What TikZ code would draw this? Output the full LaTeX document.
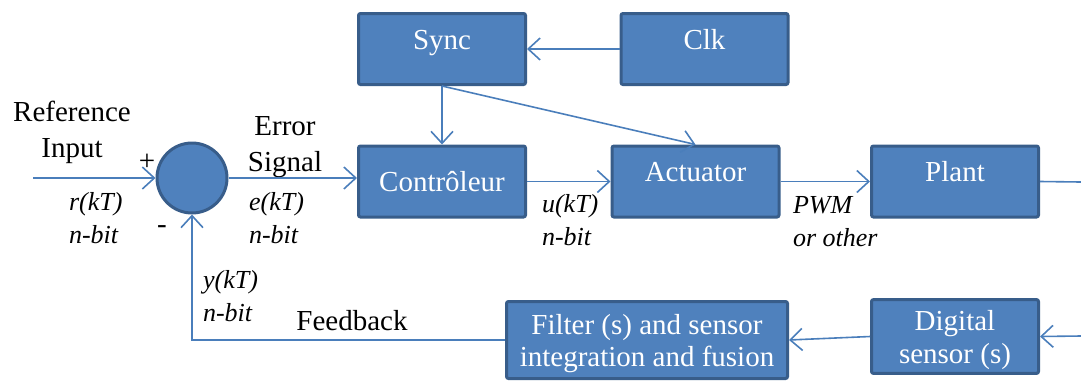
\documentclass[tikz,border=0pt]{standalone}
\usepackage{fontspec}
\setmainfont{Liberation Serif}
\usetikzlibrary{arrows.meta, positioning}
\definecolor{myfill}{RGB}{79,129,189}
\definecolor{myborder}{RGB}{56,93,138}
\definecolor{myline}{RGB}{74,126,187}

\tikzset{
    blk/.style={draw=myborder, line width=1.5pt, fill=myfill, text=white, rounded corners=1pt,
        minimum width=83.5pt, minimum height=35.5pt, inner sep=2pt, align=center,
        font=\fontsize{14.5}{16}\selectfont},
    uptext/.style={text height=10pt, text depth=10pt},
    conn/.style={draw=myline, line width=0.8pt, -{Straight Barb[length=6pt,width=11pt]}},
    lbl/.style={font=\fontsize{14.5}{18}\selectfont, align=center},
    sig/.style={font=\itshape\fontsize{13}{16.5}\selectfont, align=left, anchor=west},
}

\begin{document}
\begin{tikzpicture}[x=0.5pt, y=-0.5pt]
    \useasboundingbox (0,0) rectangle (1081,381);

    % summing junction
    \node[draw=myborder, line width=1.5pt, fill=myfill, circle, minimum size=35pt, inner sep=0pt] (sum) at (192,178) {};
    \node[lbl] (plus) at (147,162) {+};
    \node[lbl] (minus) at (162,230) {-};

    % blocks, top row
    \node[blk, uptext] (sync) at (442,49) {Sync};
    \node[blk, uptext] (clk) at (704.5,49) {Clk};

    % blocks, forward path
    \node[blk] (ctrl) at (442,181.5) {Contrôleur};
    \node[blk, uptext] (act) at (695.5,181.5) {Actuator};
    \node[blk, uptext] (plant) at (955,181.5) {Plant};

    % blocks, feedback path
    \node[blk, minimum width=140.5pt, minimum height=38.5pt, text height=30pt, text depth=3.2pt] (filt) at (647,340) {Filter (s) and sensor\\integration and fusion};
    \node[blk, minimum height=35pt, text height=29.7pt, text depth=3.2pt, font=\fontsize{14.5}{16.5}\selectfont] (sens) at (955,336.5) {Digital\\sensor (s)};

    % free ends
    \coordinate (refin) at (33,178);
    \coordinate (out) at (1081,182);
    \coordinate (meas) at (1081,336);

    % labels
    \node[lbl] (reflbl) at (72,132) {Reference\\Input};
    \node[lbl] (errlbl) at (285,147) {Error\\Signal};
    \node[lbl] (fblbl) at (352,321) {Feedback};
    \node[sig] (rlbl) at (62,218) {r(kT)\\n-bit};
    \node[sig] (elbl) at (242,218) {e(kT)\\n-bit};
    \node[sig] (ulbl) at (535,220) {u(kT)\\n-bit};
    \node[sig] (pwmlbl) at (786,222) {PWM\\or other};
    \node[sig] (ylbl) at (196,296) {y(kT)\\n-bit};

    % Arrows
    \draw[conn] (refin) -- (sum.west);
    \draw[conn] (sum.east) -- (sum.east -| ctrl.west);
    \draw[conn] (ctrl.east) -- (act.west);
    \draw[conn] (act.east) -- (plant.west);
    \draw[draw=myline, line width=0.8pt] (plant.east) -- (out);
    \draw[conn] (clk.west) -- (sync.east);
    \draw[conn] (sync.south) -- (ctrl.north);
    \draw[conn] (sync.south) -- (act.north);
    \draw[conn] (meas) -- (sens.east);
    \draw[conn] (sens.west) -- (filt.east);
    \draw[conn] (filt.west) -| (sum.south);
\end{tikzpicture}
\end{document}
